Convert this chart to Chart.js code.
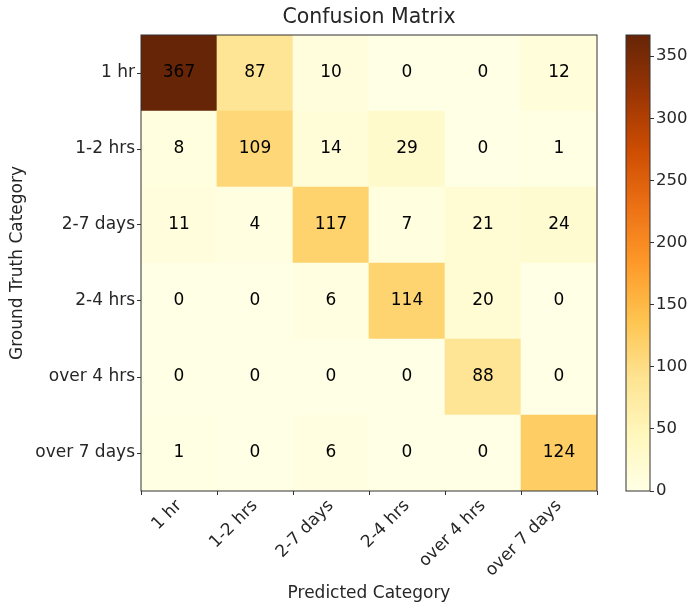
<!DOCTYPE html>
<html>
<head>
<meta charset="utf-8">
<script src="https://cdn.jsdelivr.net/npm/chart.js@4.4.1/dist/chart.umd.min.js"></script>
<style>
  body { margin: 0; background: #fff; }
  #wrap { position: relative; width: 688px; height: 606px; }
  #matrixChart { position: absolute; left: 0; top: 0; }
  #barChart { position: absolute; left: 600px; top: 0; }
</style>
</head>
<body>
<div id="wrap">
  <canvas id="matrixChart" width="688" height="606"></canvas>
  <canvas id="barChart" width="88" height="606"></canvas>
</div>
<script>
// categories (same order for ground truth rows and predicted columns)
const categories = ['1 hr', '1-2 hrs', '2-7 days', '2-4 hrs', 'over 4 hrs', 'over 7 days'];

// one array per ground truth row, values per predicted column
const row1hr = [367, 87, 10, 0, 0, 12];
const row1to2hrs = [8, 109, 14, 29, 0, 1];
const row2to7days = [11, 4, 117, 7, 21, 24];
const row2to4hrs = [0, 0, 6, 114, 20, 0];
const rowOver4hrs = [0, 0, 0, 0, 88, 0];
const rowOver7days = [1, 0, 6, 0, 0, 124];
const rows = [row1hr, row1to2hrs, row2to7days, row2to4hrs, rowOver4hrs, rowOver7days];

const colorbarTicks = [0, 50, 100, 150, 200, 250, 300, 350];
const vmax = 367;

// YlOrBr colormap stops
const ylOrBr = ['#ffffe5', '#fff7bc', '#fee391', '#fec44f', '#fe9929', '#ec7014', '#cc4c02', '#993404', '#662506'];

function hexToRgb(h) {
  return [parseInt(h.slice(1, 3), 16), parseInt(h.slice(3, 5), 16), parseInt(h.slice(5, 7), 16)];
}
function cmap(v) {
  let t = Math.max(0, Math.min(1, v / vmax)) * (ylOrBr.length - 1);
  let i = Math.min(Math.floor(t), ylOrBr.length - 2);
  let f = t - i;
  const a = hexToRgb(ylOrBr[i]), b = hexToRgb(ylOrBr[i + 1]);
  const c = a.map((x, k) => Math.round(x + (b[k] - x) * f));
  return `rgb(${c[0]},${c[1]},${c[2]})`;
}

const textColor = '#262626';
const font = 'DejaVu Sans';

// stacked bars: bottom dataset is the last row, so the first row sits on top
const datasets = rows.slice().reverse().map((r, i) => ({
  label: categories[rows.length - 1 - i],
  data: r.map(() => 1),
  values: r,
  backgroundColor: r.map(v => cmap(v)),
  borderWidth: 0,
  barPercentage: 1,
  categoryPercentage: 1
}));

const cellLabels = {
  id: 'cellLabels',
  afterDatasetsDraw(chart) {
    const ctx = chart.ctx;
    ctx.save();
    ctx.fillStyle = '#000';
    ctx.font = `17px "${font}"`;
    ctx.textAlign = 'center';
    ctx.textBaseline = 'middle';
    chart.data.datasets.forEach((ds, di) => {
      chart.getDatasetMeta(di).data.forEach((bar, j) => {
        const p = bar.getProps(['x', 'y', 'base'], true);
        ctx.fillText(String(ds.values[j]), p.x, (p.y + p.base) / 2);
      });
    });
    // frame round the heatmap
    const a = chart.chartArea;
    ctx.strokeStyle = '#333';
    ctx.lineWidth = 1;
    ctx.strokeRect(a.left, a.top, a.right - a.left, a.bottom - a.top);
    // title centred over the heatmap
    ctx.fillStyle = textColor;
    ctx.font = `20.5px "${font}"`;
    ctx.fillText('Confusion Matrix', (a.left + a.right) / 2, 18);
    ctx.restore();
  }
};

new Chart(document.getElementById('matrixChart'), {
  type: 'bar',
  data: { labels: categories, datasets: datasets },
  options: {
    responsive: false,
    animation: false,
    layout: { padding: { left: 0, right: 91, top: 35, bottom: 0 } },
    plugins: {
      legend: { display: false },
      tooltip: { enabled: false },
      title: { display: false }
    },
    scales: {
      x: {
        stacked: true,
        grid: { display: true, drawOnChartArea: false, tickLength: 4, color: '#333' },
        border: { display: false },
        ticks: { color: textColor, font: { family: font, size: 17 }, maxRotation: 45, minRotation: 45, padding: 1 },
        title: { display: true, text: 'Predicted Category', color: textColor, font: { family: font, size: 17 }, padding: { top: 0, bottom: 2 } },
        afterFit(scale) { scale.height = 115; }
      },
      y: {
        stacked: true,
        min: 0,
        max: 6,
        afterBuildTicks(scale) {
          scale.ticks = [0.5, 1.5, 2.5, 3.5, 4.5, 5.5].map(v => ({ value: v }));
        },
        grid: { display: true, drawOnChartArea: false, tickLength: 4, color: '#333' },
        border: { display: false },
        ticks: {
          color: textColor,
          font: { family: font, size: 17 },
          padding: 2,
          callback: v => categories[5 - Math.floor(v)]
        },
        title: { display: true, text: 'Ground Truth Category', color: textColor, font: { family: font, size: 17 }, padding: { top: 7, bottom: 4 } },
        afterFit(scale) { scale.width = 141; }
      }
    }
  },
  plugins: [cellLabels]
});

// colorbar
const gradientFill = {
  id: 'gradientFill',
  beforeDatasetsDraw(chart) {
    const ctx = chart.ctx, a = chart.chartArea;
    const g = ctx.createLinearGradient(0, a.bottom, 0, a.top);
    ylOrBr.forEach((c, i) => g.addColorStop(i / (ylOrBr.length - 1), c));
    ctx.save();
    ctx.fillStyle = g;
    ctx.fillRect(a.left, a.top, a.right - a.left, a.bottom - a.top);
    ctx.strokeStyle = '#333';
    ctx.lineWidth = 1;
    ctx.strokeRect(a.left, a.top, a.right - a.left, a.bottom - a.top);
    ctx.restore();
  }
};

new Chart(document.getElementById('barChart'), {
  type: 'bar',
  data: { labels: [''], datasets: [{ data: [] }] },
  options: {
    responsive: false,
    animation: false,
    layout: { padding: { left: 26, top: 35, bottom: 115, right: 0 } },
    plugins: { legend: { display: false }, tooltip: { enabled: false } },
    scales: {
      x: { display: false },
      y: {
        position: 'right',
        min: 0,
        max: vmax,
        afterBuildTicks(scale) {
          scale.ticks = colorbarTicks.map(v => ({ value: v }));
        },
        grid: { display: true, drawOnChartArea: false, tickLength: 4, color: '#333' },
        border: { display: false },
        ticks: { color: textColor, font: { family: font, size: 16.5 }, padding: 2 },
        afterFit(scale) { scale.width = 38; }
      }
    }
  },
  plugins: [gradientFill]
});
</script>
</body>
</html>
